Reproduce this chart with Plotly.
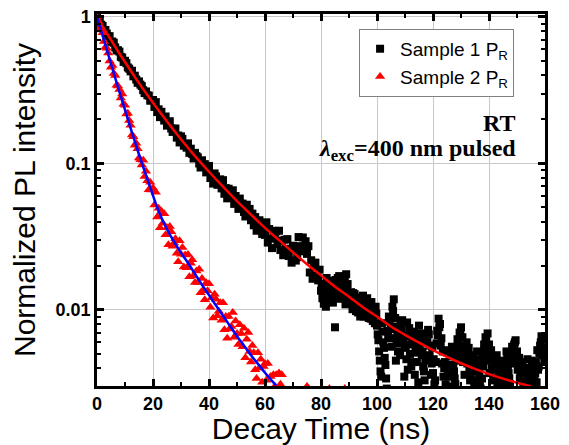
import plotly.graph_objects as go

# ---------------- data ----------------
T1 = [0, 0.5, 1, 1.5, 2, 2.5, 3, 3.5, 4, 4.5, 5, 5.5, 6, 6.5, 7, 7.5, 8, 8.5, 9, 9.5,
      10, 10.5, 11, 11.5, 12, 12.5, 13, 13.5, 14, 14.5, 15, 15.5, 16, 16.5, 17, 17.5, 18, 18.5, 19, 19.5,
      20, 20.5, 21, 21.5, 22, 22.5, 23, 23.5, 24, 24.5, 25, 25.5, 26, 26.5, 27, 27.5, 28, 28.5, 29, 29.5,
      30, 30.5, 31, 31.5, 32, 32.5, 33, 33.5, 34, 34.5, 35, 35.5, 36, 36.5, 37, 37.5, 38, 38.5, 39, 39.5,
      40, 40.5, 41, 41.5, 42, 42.5, 43, 43.5, 44, 44.5, 45, 45.5, 46, 46.5, 47, 47.5, 48, 48.5, 49, 49.5,
      50, 50.5, 51, 51.5, 52, 52.5, 53, 53.5, 54, 54.5, 55, 55.5, 56, 56.5, 57, 57.5, 58, 58.5, 59, 59.5,
      60, 60.5, 61, 61.5, 62, 62.5, 63, 63.5, 64, 64.5, 65, 65.5, 66, 66.5, 67, 67.5, 68, 68.5, 69, 69.5,
      70, 70.5, 71, 71.5, 72, 72.5, 73, 73.5, 74, 74.5, 75, 75.5, 76, 76.5, 77, 77.5, 78, 78.5, 79, 79.5,
      80, 80.5, 81, 81.5, 82, 82.5, 83, 83.5, 84, 84.5, 85, 85.5, 86, 86.5, 87, 87.5, 88, 88.5, 89, 89.5,
      90, 90.5, 91, 91.5, 92, 92.5, 93, 93.5, 94, 94.5, 95, 95.5, 96, 96.5, 97, 97.5, 98, 98.5, 99, 99.5,
      100, 100.5, 101, 101.5, 102, 102.5, 103, 103.5, 104, 104.5, 105, 105.5, 106, 106.5, 107, 107.5, 108, 108.5, 109, 109.5,
      110, 110.5, 111, 111.5, 112, 112.5, 113, 113.5, 114, 114.5, 115, 115.5, 116, 116.5, 117, 117.5, 118, 118.5, 119, 119.5,
      120, 120.5, 121, 121.5, 122, 122.5, 123, 123.5, 124, 124.5, 125, 125.5, 126, 126.5, 127, 127.5, 128, 128.5, 129, 129.5,
      130, 130.5, 131, 131.5, 132, 132.5, 133, 133.5, 134, 134.5, 135, 135.5, 136, 136.5, 137, 137.5, 138, 138.5, 139, 139.5,
      140, 140.5, 141, 141.5, 142, 142.5, 143, 143.5, 144, 144.5, 145, 145.5, 146, 146.5, 147, 147.5, 148, 148.5, 149, 149.5,
      150, 150.5, 151, 151.5, 152, 152.5, 153, 153.5, 154, 154.5, 155, 155.5, 156, 156.5, 157, 157.5, 158, 158.5, 159, 159.5,
      160]

SAMPLE1 = [1.0, .955, .935, .885, .867, .808, .815, .770,
           .734, .739, .677, .679, .666, .619, .591, .592,
           .580, .534, .528, .493, .502, .483, .452, .443,
           .425, .429, .393, .397, .374, .355, .363, .345,
           .337, .316, .302, .310, .292, .290, .268, .270,
           .271, .243, .262, .224, .234, .207, .225, .207,
           .196, .209, .181, .191, .194, .173, .164, .172,
           .173, .150, .155, .139, .153, .147, .132, .133,
           .128, .137, .118, .126, .116, .108, .118, .112,
           .110, .0998, .0937, .105, .0959, .0988, .0868, .0920,
           .0961, .0794, .0845, .0728, .0854, .0815, .0714, .0734,
           .0778, .0675, .0768, .0620, .0678, .0577, .0671, .0604,
           .0583, .0655, .0529, .0599, .0540, .0489, .0575, .0530,
           .0531, .0466, .0434, .0522, .0460, .0489, .0409, .0454,
           .0378, .0430, .0347, .0393, .0409, .0350, .0329, .0367,
           .0325, .0396, .0288, .0356, .0306, .0264, .0346, .0312,
           .0343, .0282, .0347, .0256, .0297, .0236, .0301, .0261,
           .0304, .0233, .0261, .0210, .0274, .0259, .0217, .0229,
           .0314, .0272, .0251, .0312, .0272, .0294, .0241, .0272,
           .0180, .0218, .0163, .0198, .0210, .0171, .0159, .0188,
           .0135, .0120, .0110, .0145, .0165, .0130, .0115, .0125,
           .0150, .0135, .0076, .0140, .0165, .0170, .0155, .0145,
           .0130, .0160, .0175, .0150, .0125, .0115, .0110, .0130,
           .0128, .0098, .0121, .0108, .0090, .0117, .0125, .0094,
           .0108, .0120, .0088, .0099, .0113, .0084, .0093, .0105,
           .0078, .0062, .0045, .0035, .0071, .0055, .0042, .0029,
           .0066, .0083, .0074, .0105, .0118, .0088, .0061, .0052,
           .0070, .0080, .0085, .0066, .0058, .0046, .0039, .0075,
           .0070, .0058, .0044, .0036, .0051, .0064, .0078, .0062,
           .0049, .0041, .0033, .0047, .0060, .0068, .0057, .0043,
           .0037, .0031, .0044, .0072, .0087, .0080, .0064, .0052,
           .0040, .0031, .0028, .0035, .0029, .0042, .0050, .0038,
           .0031, .0045, .0058, .0070, .0076, .0065, .0054, .0047,
           .0060, .0052, .0039, .0035, .0045, .0033, .0030, .0038,
           .0046, .0036, .0029, .0034, .0041, .0053, .0062, .0069,
           .0058, .0048, .0040, .0034, .0044, .0039, .0031, .0036,
           .0042, .0035, .0030, .0033, .0040, .0047, .0037, .0031,
           .0043, .0053, .0058, .0062, .0052, .0042, .0034, .0038,
           .0044, .0036, .0030, .0033, .0040, .0034, .0031, .0036,
           .0042, .0037, .0032, .0039, .0050, .0060, .0063, .0055,
           .0048]

# interleaved time channels of the noisy tail (80-160 ns)
T1_TAIL = [80.25, 80.75, 81.25, 81.75, 82.25, 82.75, 83.25, 83.75, 84.25, 84.75, 85.25, 85.75, 86.25, 86.75, 87.25, 87.75,
           88.25, 88.75, 89.25, 89.75, 90.25, 90.75, 91.25, 91.75, 92.25, 92.75, 93.25, 93.75, 94.25, 94.75, 95.25, 95.75,
           96.25, 96.75, 97.25, 97.75, 98.25, 98.75, 99.25, 99.75, 100.25, 100.75, 101.25, 101.75, 102.25, 102.75, 103.25, 103.75,
           104.25, 104.75, 105.25, 105.75, 106.25, 106.75, 107.25, 107.75, 108.25, 108.75, 109.25, 109.75, 110.25, 110.75, 111.25, 111.75,
           112.25, 112.75, 113.25, 113.75, 114.25, 114.75, 115.25, 115.75, 116.25, 116.75, 117.25, 117.75, 118.25, 118.75, 119.25, 119.75,
           120.25, 120.75, 121.25, 121.75, 122.25, 122.75, 123.25, 123.75, 124.25, 124.75, 125.25, 125.75, 126.25, 126.75, 127.25, 127.75,
           128.25, 128.75, 129.25, 129.75, 130.25, 130.75, 131.25, 131.75, 132.25, 132.75, 133.25, 133.75, 134.25, 134.75, 135.25, 135.75,
           136.25, 136.75, 137.25, 137.75, 138.25, 138.75, 139.25, 139.75, 140.25, 140.75, 141.25, 141.75, 142.25, 142.75, 143.25, 143.75,
           144.25, 144.75, 145.25, 145.75, 146.25, 146.75, 147.25, 147.75, 148.25, 148.75, 149.25, 149.75, 150.25, 150.75, 151.25, 151.75,
           152.25, 152.75, 153.25, 153.75, 154.25, 154.75, 155.25, 155.75, 156.25, 156.75, 157.25, 157.75, 158.25, 158.75, 159.25, 159.75]

SAMPLE1_TAIL = [.0150, .0128, .0118, .0105, .0140, .0158, .0122, .0136,
                .0112, .0147, .0160, .0128, .0119, .0138, .0152, .0133,
                .0121, .0109, .0140, .0126, .0115, .0132, .0101, .0123,
                .0117, .0107, .0096, .0121, .0113, .0104, .0090, .0118,
                .0102, .0095, .0109, .0087, .0098, .0092, .0081, .0094,
                .0068, .0052, .0038, .0081, .0060, .0047, .0034, .0072,
                .0090, .0064, .0056, .0098, .0077, .0045, .0068, .0059,
                .0049, .0073, .0062, .0035, .0055, .0082, .0066, .0050,
                .0041, .0063, .0071, .0054, .0044, .0032, .0058, .0069,
                .0052, .0038, .0045, .0061, .0073, .0049, .0036, .0055,
                .0046, .0033, .0059, .0067, .0076, .0057, .0043, .0035,
                .0044, .0053, .0037, .0030, .0048, .0056, .0041, .0034,
                .0052, .0063, .0049, .0068, .0057, .0044, .0036, .0050,
                .0043, .0055, .0033, .0040, .0049, .0031, .0044, .0052,
                .0039, .0032, .0043, .0048, .0058, .0065, .0051, .0045,
                .0037, .0053, .0046, .0033, .0041, .0049, .0034, .0038,
                .0045, .0031, .0036, .0043, .0052, .0040, .0034, .0047,
                .0056, .0049, .0060, .0045, .0039, .0047, .0035, .0041,
                .0032, .0040, .0036, .0046, .0031, .0038, .0045, .0039,
                .0034, .0044, .0053, .0041, .0057, .0066, .0049, .0044]

T2 = [0, 0.5, 1, 1.5, 2, 2.5, 3, 3.5, 4, 4.5, 5, 5.5, 6, 6.5, 7, 7.5, 8, 8.5, 9, 9.5,
      10, 10.5, 11, 11.5, 12, 12.5, 13, 13.5, 14, 14.5, 15, 15.5, 16, 16.5, 17, 17.5, 18, 18.5, 19, 19.5,
      20, 20.5, 21, 21.5, 22, 22.5, 23, 23.5, 24, 24.5, 25, 25.5, 26, 26.5, 27, 27.5, 28, 28.5, 29, 29.5,
      30, 30.5, 31, 31.5, 32, 32.5, 33, 33.5, 34, 34.5, 35, 35.5, 36, 36.5, 37, 37.5, 38, 38.5, 39, 39.5,
      40, 40.5, 41, 41.5, 42, 42.5, 43, 43.5, 44, 44.5, 45, 45.5, 46, 46.5, 47, 47.5, 48, 48.5, 49, 49.5,
      50, 50.5, 51, 51.5, 52, 52.5, 53, 53.5, 54, 54.5, 55, 55.5, 56, 56.5, 57, 57.5, 58, 58.5, 59, 59.5,
      60, 60.5, 61, 61.5, 62, 62.5, 63, 63.5, 64, 64.5, 65, 65.5, 66, 66.5,
      75, 75.5, 83, 88.5]

SAMPLE2 = [1.0, .93, .84, .815, .78, .68, .62, .61,
           .568, .501, .453, .466, .411, .398, .342, .337,
           .319, .280, .298, .253, .249, .217, .220, .196,
           .182, .156, .152, .133, .137, .126, .109, .106,
           .0974, .105, .0813, .0882, .0762, .0661, .0743, .0658,
           .0678, .0520, .0636, .0430, .0494, .0364, .0472, .0390,
           .0453, .0326, .0363, .0278, .0371, .0342, .0272, .0286,
           .0306, .0243, .0213, .0296, .0240, .0266, .0196, .0237,
           .0194, .0239, .0168, .0208, .0220, .0171, .0154, .0184,
           .0154, .0189, .0131, .0164, .0137, .0117, .0153, .0135,
           .0151, .0104, .0121, .0088, .0128, .0118, .0091, .0098,
           .0112, .0085, .0112, .0073, .0090, .0064, .0090, .0074,
           .0077, .0096, .0065, .0084, .0069, .0058, .0079, .0069,
           .0056, .0075, .0047, .0063, .0070, .0052, .0044, .0057,
           .0051, .0039, .0034, .0051, .0040, .0046, .0032, .0041,
           .0043, .0033, .0043, .0028, .0035, .0025, .0036, .0030,
           .0036, .0025, .0037, .0031, .0036, .0025,
           .0030, .0029, .0029, .0029]

FIT1_T = [0, 2.5, 5, 7.5, 10, 12.5, 15, 20, 25, 30, 35, 40, 45, 50, 55, 60, 65, 70, 75, 80,
          85, 90, 95, 100, 105, 110, 115, 120, 125, 130, 135, 140, 145, 150, 155]
FIT1_V = [1.0, 0.832, 0.696, 0.583, 0.492, 0.416, 0.353, 0.259, 0.193, 0.146, 0.112, 0.0877,
          0.0693, 0.0553, 0.0447, 0.0363, 0.0299, 0.0247, 0.0205, 0.0172, 0.0144, 0.0123, 0.0104,
          0.0090, 0.0077, 0.00675, 0.00597, 0.00531, 0.00477, 0.00432, 0.00395, 0.00364, 0.00339,
          0.00318, 0.00301]

FIT2_T = [0, 2.5, 5, 7.5, 10, 12.5, 15, 17.5, 20, 22.5, 25, 27.5, 30, 32.5, 35, 37.5, 40, 42.5,
          45, 47.5, 50, 52.5, 55, 57.5, 60, 62.5, 64]
FIT2_V = [1.0, 0.692, 0.479, 0.331, 0.232, 0.162, 0.115, 0.0832, 0.0603, 0.0447, 0.0355, 0.0292,
          0.0245, 0.0209, 0.0176, 0.0148, 0.0126, 0.0107, 0.00912, 0.00776, 0.00661, 0.00569,
          0.0049, 0.00427, 0.00372, 0.00327, 0.00305]

X_TICKS = [0, 20, 40, 60, 80, 100, 120, 140, 160]
Y_TICKS = [0.01, 0.1, 1]
Y_TICK_TEXT = ["0.01", "0.1", "1"]
Y_MINOR = [0.003, 0.004, 0.005, 0.006, 0.007, 0.008, 0.009,
           0.02, 0.03, 0.04, 0.05, 0.06, 0.07, 0.08, 0.09,
           0.2, 0.3, 0.4, 0.5, 0.6, 0.7, 0.8, 0.9]

SANS = "Liberation Sans, Arial, sans-serif"
SERIF = "Liberation Serif, Times New Roman, serif"

fig = go.Figure()
fig.add_trace(go.Scatter(x=T1 + T1_TAIL, y=SAMPLE1 + SAMPLE1_TAIL, mode="markers",
                         name="Sample 1 P<sub>R</sub>",
                         marker=dict(symbol="square", size=8, color="black", line=dict(width=0))))
fig.add_trace(go.Scatter(x=T2, y=SAMPLE2, mode="markers", name="Sample 2 P<sub>R</sub>",
                         marker=dict(symbol="triangle-up", size=9, color="#ff0000", line=dict(width=0))))
fig.add_trace(go.Scatter(x=FIT1_T, y=FIT1_V, mode="lines", showlegend=False,
                         line=dict(color="#ff0000", width=2.5, shape="spline")))
fig.add_trace(go.Scatter(x=FIT2_T, y=FIT2_V, mode="lines", showlegend=False,
                         line=dict(color="#0000ff", width=2.5, shape="spline")))

axis_common = dict(showline=True, linecolor="black", linewidth=2.5, mirror="allticks",
                   ticks="inside", ticklen=7, tickwidth=2.5, tickcolor="black",
                   showgrid=True, gridcolor="#c8c8c8", gridwidth=1, zeroline=False,
                   automargin=False, ticklabeloverflow="allow",
                   tickfont=dict(family=SANS, size=18, color="black", weight="bold"))

fig.update_xaxes(range=[0, 160], tickmode="array", tickvals=X_TICKS,
                 minor=dict(ticks="inside", ticklen=4, tickwidth=2, dtick=10, tick0=0, showgrid=False),
                 title=dict(text="Decay Time (ns)", font=dict(family=SANS, size=30, color="black"), standoff=7),
                 **axis_common)
fig.update_yaxes(type="log", range=[-2.52, 0.02], tickmode="array", tickvals=Y_TICKS, ticktext=Y_TICK_TEXT,
                 minor=dict(ticks="inside", ticklen=4, tickwidth=2, tickmode="array", tickvals=Y_MINOR, showgrid=False),
                 title=dict(text="Normalized PL intensity", font=dict(family=SANS, size=30, color="black"), standoff=12),
                 **axis_common)

fig.add_annotation(xref="paper", yref="paper", x=0.94, y=0.707, xanchor="right", yanchor="middle",
                   text="<b>RT</b>", showarrow=False,
                   font=dict(family=SERIF, size=24, color="black"))
fig.add_annotation(xref="paper", yref="paper", x=0.94, y=0.634, xanchor="right", yanchor="middle",
                   text="<b><i>λ</i><sub>exc</sub>=400 nm pulsed</b>", showarrow=False,
                   font=dict(family=SERIF, size=24, color="black"))

# the page body adds an 8 px margin, so the figure is sized and offset to match
fig.update_layout(
    width=553, height=437,
    margin=dict(l=89, r=16, t=6, b=59),
    paper_bgcolor="white", plot_bgcolor="white",
    legend=dict(x=0.585, y=0.96, xanchor="left", yanchor="top",
                bgcolor="white", bordercolor="#808080", borderwidth=1,
                font=dict(family=SANS, size=19, color="black")),
)

fig.write_html("out.html")
